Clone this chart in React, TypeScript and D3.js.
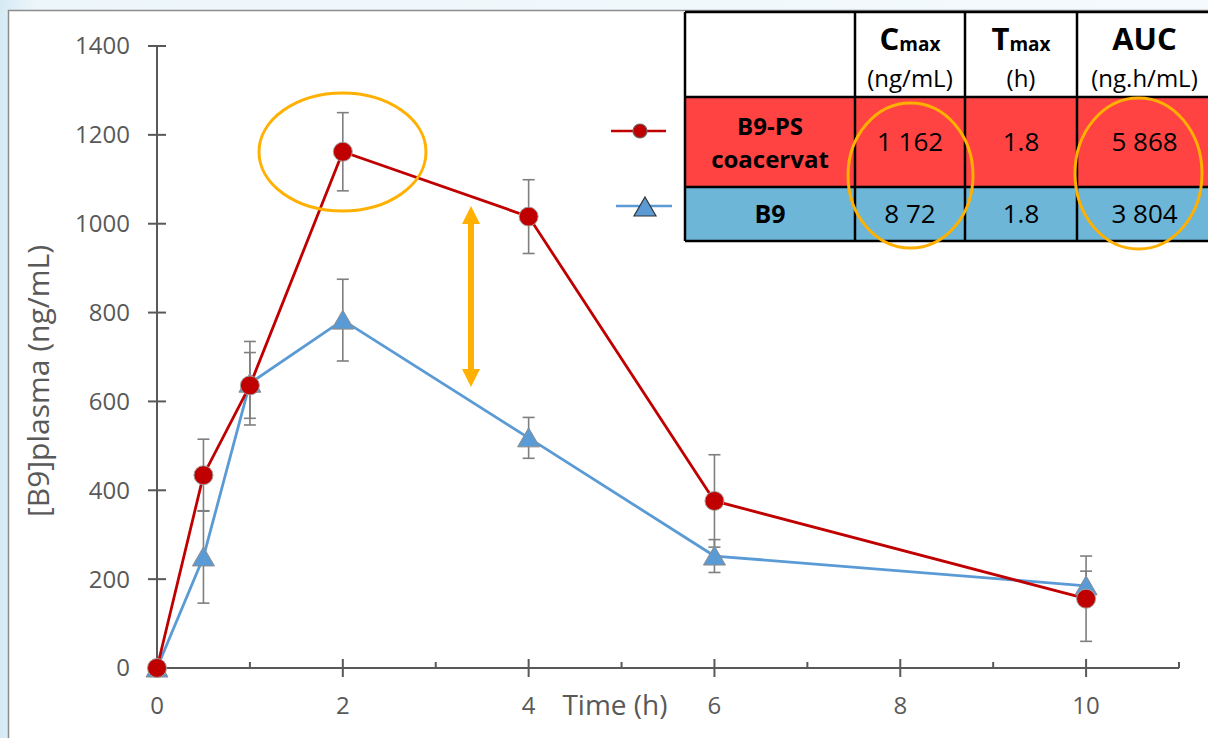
import React from "react";
import * as d3 from "d3";

const times = [0, 0.5, 1, 2, 4, 6, 10];
const coacervatValues = [0, 434, 636, 1162, 1016, 376, 156];
const coacervatErrors = [0, 81, 74, 88, 83, 104, 96];
const b9Values = [0, 250, 641, 783, 518, 252, 185];
const b9Errors = [0, 104, 94, 92, 46, 37, 33];
const yTicks = [0, 200, 400, 600, 800, 1000, 1200, 1400];
const xMajorTicks = [0, 2, 4, 6, 8, 10];
const xMinorTicks = [1, 3, 5, 7, 9, 11];

const tableHeaders = [
  { main: "C", sub: "max", unit: "(ng/mL)" },
  { main: "T", sub: "max", unit: "(h)" },
  { main: "AUC", sub: "", unit: "(ng.h/mL)" },
];
const tableRows = [
  { name: ["B9-PS", "coacervat"], values: ["1 162", "1.8", "5 868"] },
  { name: ["B9"], values: ["8 72", "1.8", "3 804"] },
];

const W = 1208;
const H = 738;
const FONT = "'Open Sans', 'DejaVu Sans', sans-serif";
const AXIS = "#595959";
const RED = "#C00000";
const BLUE = "#5B9BD5";
const ORANGE = "#FFB000";
const ERR = "#7F7F7F";

export default function App() {
  const x = d3.scaleLinear().domain([0, 11]).range([157, 1179]);
  const y = d3.scaleLinear().domain([0, 1400]).range([668, 46]);
  const line = d3
    .line<number>()
    .x((_, i) => x(times[i]))
    .y((v) => y(v));

  const tri = "M0,-10 L11,9 L-11,9 Z";

  const colX = [685, 855, 965, 1077, 1212];
  const rowY = [12, 97, 187, 241];
  const cx = (c: number) => (colX[c] + colX[c + 1]) / 2;
  const cy = (r: number) => (rowY[r] + rowY[r + 1]) / 2;
  const rowFill = ["#FF4343", "#6DB6D7"];

  const errorBars = (vals: number[], errs: number[], key: string) =>
    vals.map((v, i) => {
      if (errs[i] === 0) return null;
      const px = x(times[i]);
      const top = y(v + errs[i]);
      const bot = y(v - errs[i]);
      return (
        <g key={key + i} stroke={ERR} strokeWidth={1.6}>
          <line x1={px} x2={px} y1={top} y2={bot} />
          <line x1={px - 6} x2={px + 6} y1={top} y2={top} />
          <line x1={px - 6} x2={px + 6} y1={bot} y2={bot} />
        </g>
      );
    });

  return (
    <svg
      width={W}
      height={H}
      style={{ position: "fixed", left: 0, top: 0, display: "block" }}
      fontFamily={FONT}
    >
      <defs>
        <linearGradient id="bg" x1="0" x2="1" y1="0" y2="0">
          <stop offset="0" stopColor="#D6EAF4" />
          <stop offset="0.03" stopColor="#EDF6FB" />
          <stop offset="1" stopColor="#F4FAFD" />
        </linearGradient>
      </defs>
      <rect x={0} y={0} width={W} height={H} fill="url(#bg)" />
      <rect x={8.5} y={10.5} width={W + 10} height={H + 10} fill="#ffffff" stroke="#8C8C8C" strokeWidth={1.5} />

      {/* Y axis */}
      <line x1={x(0)} x2={x(0)} y1={y(0)} y2={y(1400)} stroke={AXIS} strokeWidth={2} />
      {yTicks.map((t) => (
        <g key={"yt" + t}>
          <line x1={x(0) - 9} x2={x(0) + 9} y1={y(t)} y2={y(t)} stroke={AXIS} strokeWidth={2} />
          <text x={130} y={y(t)} dy="0.35em" textAnchor="end" fontSize={24} fill={AXIS}>
            {t}
          </text>
        </g>
      ))}
      {/* X axis */}
      <line x1={x(0)} x2={x(11)} y1={y(0)} y2={y(0)} stroke={AXIS} strokeWidth={2} />
      {xMajorTicks.map((t) => (
        <g key={"xt" + t}>
          <line x1={x(t)} x2={x(t)} y1={y(0) - 9} y2={y(0) + 9} stroke={AXIS} strokeWidth={2} />
          <text x={x(t)} y={714} textAnchor="middle" fontSize={24} fill={AXIS}>
            {t}
          </text>
        </g>
      ))}
      {xMinorTicks.map((t) => (
        <line key={"xm" + t} x1={x(t)} x2={x(t)} y1={y(0) - 6} y2={y(0)} stroke={AXIS} strokeWidth={2} />
      ))}

      <text x={615} y={715} textAnchor="middle" fontSize={28} fill={AXIS}>
        Time (h)
      </text>
      <text
        transform={`translate(49,381) rotate(-90)`}
        textAnchor="middle"
        fontSize={30}
        fill={AXIS}
      >
        [B9]plasma (ng/mL)
      </text>

      {/* Lines */}
      <path d={line(b9Values) || ""} fill="none" stroke={BLUE} strokeWidth={2.8} />
      <path d={line(coacervatValues) || ""} fill="none" stroke={RED} strokeWidth={2.8} />

      {/* Error bars */}
      {errorBars(b9Values, b9Errors, "be")}
      {errorBars(coacervatValues, coacervatErrors, "re")}

      {/* Markers */}
      {b9Values.map((v, i) => (
        <path
          key={"bm" + i}
          d={tri}
          transform={`translate(${x(times[i])},${y(v)})`}
          fill={BLUE}
          stroke="#8C8C8C"
          strokeWidth={1}
        />
      ))}
      {coacervatValues.map((v, i) => (
        <circle key={"rm" + i} cx={x(times[i])} cy={y(v)} r={9.5} fill={RED} stroke="#A0A0A0" strokeWidth={1} />
      ))}

      {/* Legend */}
      <line x1={611} x2={666} y1={131} y2={131} stroke={RED} strokeWidth={2.5} />
      <circle cx={640} cy={131} r={7} fill={RED} stroke="#666" strokeWidth={1.2} />
      <line x1={616} x2={672} y1={206} y2={206} stroke={BLUE} strokeWidth={2.5} />
      <path d={tri} transform="translate(645,207)" fill={BLUE} stroke="#333" strokeWidth={1.2} />

      {/* Orange annotations */}
      <ellipse cx={342.5} cy={152} rx={83.5} ry={59} fill="none" stroke={ORANGE} strokeWidth={3} />
      <line x1={471} x2={471} y1={220} y2={373} stroke={ORANGE} strokeWidth={6} />
      <path d="M471,206 L480,224 L462,224 Z" fill={ORANGE} />
      <path d="M471,387 L480,369 L462,369 Z" fill={ORANGE} />

      {/* Table */}
      <rect x={colX[0]} y={rowY[0]} width={colX[4] - colX[0]} height={rowY[1] - rowY[0]} fill="#ffffff" />
      {tableRows.map((r, ri) => (
        <rect
          key={"rf" + ri}
          x={colX[0]}
          y={rowY[ri + 1]}
          width={colX[4] - colX[0]}
          height={rowY[ri + 2] - rowY[ri + 1]}
          fill={rowFill[ri]}
        />
      ))}
      {tableHeaders.map((h, i) => (
        <g key={"th" + i}>
          <text x={cx(i + 1)} y={50} textAnchor="middle" fontWeight="bold" fill="#000">
            <tspan fontSize={31}>{h.main}</tspan>
            {h.sub ? (
              <tspan fontSize={19} dy={1}>
                {h.sub}
              </tspan>
            ) : null}
          </text>
          <text x={cx(i + 1)} y={87} textAnchor="middle" fontSize={24} fill="#000">
            {h.unit}
          </text>
        </g>
      ))}
      {tableRows.map((r, ri) => (
        <g key={"tr" + ri}>
          {r.name.length === 2 ? (
            <>
              <text x={cx(0)} y={135} textAnchor="middle" fontSize={24} fontWeight="bold" fill="#000">
                {r.name[0]}
              </text>
              <text x={cx(0)} y={168} textAnchor="middle" fontSize={24} fontWeight="bold" fill="#000">
                {r.name[1]}
              </text>
            </>
          ) : (
            <text x={cx(0)} y={cy(ri + 1)} dy="0.35em" textAnchor="middle" fontSize={25} fontWeight="bold" fill="#000">
              {r.name[0]}
            </text>
          )}
          {r.values.map((v, vi) => (
            <text
              key={"tv" + vi}
              x={cx(vi + 1)}
              y={cy(ri + 1)}
              dy="0.35em"
              textAnchor="middle"
              fontSize={26}
              fill="#000"
            >
              {v}
            </text>
          ))}
        </g>
      ))}
      <g stroke="#000" strokeWidth={2.5}>
        {rowY.map((ry) => (
          <line key={"hl" + ry} x1={colX[0]} x2={colX[4]} y1={ry} y2={ry} />
        ))}
        {colX.map((cxv) => (
          <line key={"vl" + cxv} x1={cxv} x2={cxv} y1={rowY[0]} y2={rowY[3]} />
        ))}
      </g>
      <ellipse cx={910.5} cy={175.5} rx={62.5} ry={72.5} fill="none" stroke={ORANGE} strokeWidth={3} />
      <ellipse cx={1138.5} cy={173.5} rx={63.5} ry={75.5} fill="none" stroke={ORANGE} strokeWidth={3} />
    </svg>
  );
}
